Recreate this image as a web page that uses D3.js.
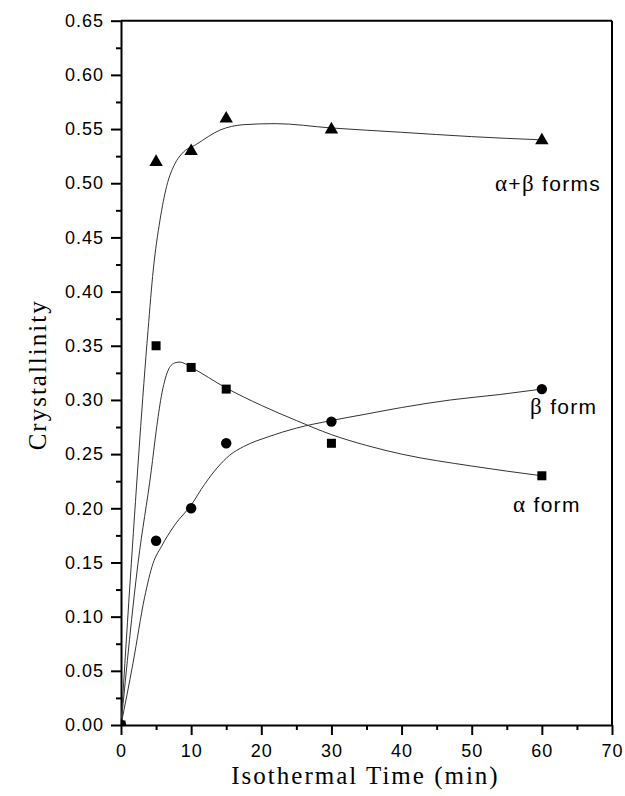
<!DOCTYPE html>
<html>
<head>
<meta charset="utf-8">
<script src="https://cdnjs.cloudflare.com/ajax/libs/d3/7.8.5/d3.min.js"></script>
<style>
  html, body { margin: 0; padding: 0; background: #fff; }
  svg { display: block; }
</style>
</head>
<body>
<div id="chart"></div>
<script>
// measured points
const times = [0, 5, 10, 15, 30, 60];
const alphaBetaForms = [0, 0.52, 0.53, 0.56, 0.55, 0.54];
const alphaForm = [0, 0.35, 0.33, 0.31, 0.26, 0.23];
const betaForm = [0, 0.17, 0.20, 0.26, 0.28, 0.31];

// fitted curves as [time, crystallinity]
const alphaBetaFit = [
    [0, 0], [1.47, 0.149], [3.85, 0.364], [4.6, 0.42], [5.56, 0.466], [6.5, 0.497],
    [7.69, 0.518], [8.64, 0.527], [10.78, 0.536], [14.1, 0.549], [17.4, 0.554],
    [22, 0.555], [30, 0.551], [40, 0.547], [50, 0.543], [60, 0.540]
];
const alphaFit = [
    [0, 0], [2.42, 0.149], [4.32, 0.235], [5.03, 0.272], [5.74, 0.303], [6.7, 0.327],
    [7.6, 0.334], [8.4, 0.335], [10, 0.330], [15, 0.311], [20, 0.295], [25, 0.281],
    [30, 0.268], [35, 0.258], [40, 0.250], [50, 0.239], [60, 0.230]
];
const betaFit = [
    [0, 0], [1.71, 0.057], [3.37, 0.118], [4.56, 0.149], [5.74, 0.1645], [7.65, 0.1845],
    [10, 0.203], [11.9, 0.222], [13.8, 0.238], [15.5, 0.249], [17.5, 0.257], [21, 0.266],
    [25, 0.274], [30, 0.281], [35, 0.287], [40, 0.293], [47, 0.300], [54, 0.305], [60, 0.31]
];

const xTicks = [0, 10, 20, 30, 40, 50, 60, 70];
const yTicks = [0, 0.05, 0.10, 0.15, 0.20, 0.25, 0.30, 0.35, 0.40, 0.45, 0.50, 0.55, 0.60, 0.65];

const width = 625, height = 796;
const margin = { top: 20.7, left: 121, bottom: 71, right: 13 };
const w = width - margin.left - margin.right;
const h = height - margin.top - margin.bottom;

const svg = d3.select("#chart")
    .append("svg")
    .attr("width", width)
    .attr("height", height);

const g = svg.append("g")
    .attr("transform", "translate(" + margin.left + "," + margin.top + ")");

const x = d3.scaleLinear().domain([0, 70]).range([0, w]);
const y = d3.scaleLinear().domain([0, 0.65]).range([h, 0]);

g.append("clipPath").attr("id", "plotclip")
    .append("rect").attr("width", w).attr("height", h);

const tickFont = "'Liberation Sans', Arial, sans-serif";
const serif = "'Liberation Serif', 'Times New Roman', serif";

// minor ticks (drawn first, axes go over them)
g.append("g")
    .attr("transform", "translate(0," + h + ")")
    .call(d3.axisBottom(x).tickValues(d3.range(5, 70, 10)).tickSize(5).tickFormat(""))
    .call(function(a) { a.select(".domain").remove(); a.selectAll("line").attr("stroke-width", 2); });

g.append("g")
    .call(d3.axisLeft(y).tickValues(d3.range(0.025, 0.65, 0.05)).tickSize(5).tickFormat(""))
    .call(function(a) { a.select(".domain").remove(); a.selectAll("line").attr("stroke-width", 2); });

// x-axis
const xAxis = g.append("g")
    .attr("transform", "translate(0," + h + ")")
    .call(d3.axisBottom(x).tickValues(xTicks).tickSize(10).tickSizeOuter(0).tickPadding(9));

// y-axis
const yAxis = g.append("g")
    .call(d3.axisLeft(y).tickValues(yTicks).tickFormat(d3.format(".2f")).tickSize(10).tickSizeOuter(0).tickPadding(8));

[xAxis, yAxis].forEach(function(a) {
    a.select(".domain").attr("stroke-width", 2);
    a.selectAll(".tick line").attr("stroke-width", 2);
    a.selectAll(".tick text")
        .style("font-family", tickFont)
        .style("font-size", "18px")
        .style("letter-spacing", "1px")
        .attr("fill", "#000");
});
yAxis.selectAll(".tick text").attr("dx", "1px");

// top and right frame
g.append("line").attr("x1", 0).attr("x2", w).attr("y1", 0).attr("y2", 0)
    .attr("stroke", "#000").attr("stroke-width", 2);
g.append("line").attr("x1", w).attr("x2", w).attr("y1", 0).attr("y2", h)
    .attr("stroke", "#000").attr("stroke-width", 2);

// fitted curves
const line = d3.line()
    .x(function(d) { return x(d[0]); })
    .y(function(d) { return y(d[1]); })
    .curve(d3.curveMonotoneX);

[alphaBetaFit, alphaFit, betaFit].forEach(function(fit) {
    g.append("path")
        .datum(fit)
        .attr("fill", "none")
        .attr("stroke", "#333")
        .attr("stroke-width", 1)
        .attr("d", line);
});

// markers
const marks = g.append("g").attr("clip-path", "url(#plotclip)");

marks.selectAll(".tri")
    .data(times.map(function(t, i) { return [t, alphaBetaForms[i]]; }))
    .enter().append("path")
    .attr("d", d3.symbol().type(d3.symbolTriangle).size(78))
    .attr("transform", function(d) { return "translate(" + x(d[0]) + "," + (y(d[1]) + 0.5) + ")"; })
    .attr("fill", "#000");

marks.selectAll(".sq")
    .data(times.map(function(t, i) { return [t, alphaForm[i]]; }))
    .enter().append("rect")
    .attr("x", function(d) { return x(d[0]) - 4.5; })
    .attr("y", function(d) { return y(d[1]) - 4.5; })
    .attr("width", 9).attr("height", 9)
    .attr("fill", "#000");

marks.selectAll(".dot")
    .data(times.map(function(t, i) { return [t, betaForm[i]]; }))
    .enter().append("circle")
    .attr("cx", function(d) { return x(d[0]); })
    .attr("cy", function(d) { return y(d[1]); })
    .attr("r", 5.2)
    .attr("fill", "#000");

// series labels
function seriesLabel(px, py, parts) {
    var t = svg.append("text")
        .attr("x", px).attr("y", py)
        .style("font-family", tickFont)
        .style("font-size", "21px")
        .style("letter-spacing", "1.3px")
        .attr("fill", "#000");
    parts.forEach(function(p) {
        t.append("tspan")
            .style("font-family", p[1] ? serif : tickFont)
            .style("font-size", p[1] ? "23px" : "21px")
            .text(p[0]);
    });
}
seriesLabel(495, 191, [["α", true], ["+", false], ["β", true], [" forms", false]]);
seriesLabel(530, 414, [["β", true], [" form", false]]);
seriesLabel(513, 512, [["α", true], [" form", false]]);

// axis titles
svg.append("text")
    .attr("x", margin.left + w / 2 - 1)
    .attr("y", 784)
    .attr("text-anchor", "middle")
    .style("font-family", serif)
    .style("font-size", "25px")
    .style("letter-spacing", "2px")
    .text("Isothermal Time (min)");

svg.append("text")
    .attr("transform", "translate(46," + (margin.top + h / 2 + 2) + ") rotate(-90)")
    .attr("text-anchor", "middle")
    .style("font-family", serif)
    .style("font-size", "25px")
    .style("letter-spacing", "2px")
    .text("Crystallinity");
</script>
</body>
</html>
